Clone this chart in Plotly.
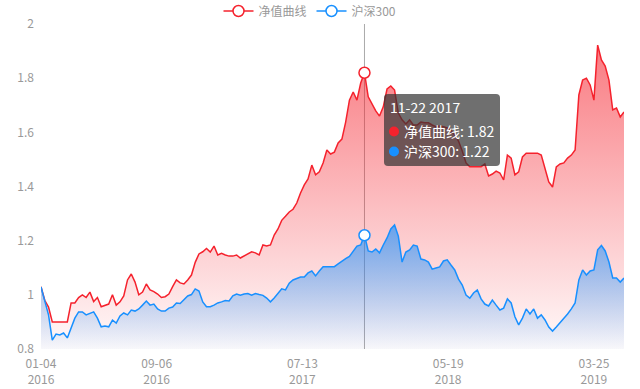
import pandas as pd
import plotly.graph_objects as go

# ---------------- data ----------------
START_DATE = "2016-01-04"
STEP = "8D"

nav = [
    1.03, 0.98, 0.955, 0.90, 0.90, 0.90, 0.90, 0.90, 0.97, 0.97,
    0.99, 1.00, 0.99, 1.01, 0.975, 0.99, 0.956, 0.96, 0.966, 1.00,
    0.962, 0.974, 0.996, 1.055, 1.077, 1.047, 1.00, 1.01, 1.04, 1.018,
    1.012, 1.003, 0.99, 0.993, 1.003, 1.03, 1.055, 1.044, 1.04, 1.055,
    1.073, 1.12, 1.151, 1.159, 1.171, 1.158, 1.18, 1.147, 1.153, 1.147,
    1.143, 1.143, 1.147, 1.136, 1.143, 1.151, 1.159, 1.155, 1.147, 1.184,
    1.18, 1.184, 1.221, 1.243, 1.275, 1.29, 1.306, 1.316, 1.339, 1.376,
    1.406, 1.428, 1.479, 1.443, 1.454, 1.487, 1.535, 1.52, 1.527, 1.561,
    1.575, 1.638, 1.719, 1.749, 1.719, 1.782, 1.82, 1.731, 1.705, 1.679,
    1.66, 1.694, 1.76, 1.771, 1.756, 1.671, 1.646, 1.631, 1.646, 1.627,
    1.627, 1.638, 1.635, 1.635, 1.627, 1.621, 1.623, 1.621, 1.616, 1.609,
    1.59, 1.568, 1.531, 1.487, 1.473, 1.473, 1.473, 1.473, 1.483, 1.439,
    1.446, 1.457, 1.45, 1.424, 1.516, 1.505, 1.443, 1.454, 1.509, 1.523,
    1.523, 1.523, 1.523, 1.516, 1.461, 1.417, 1.398, 1.472, 1.483, 1.487,
    1.505, 1.516, 1.535, 1.738, 1.793, 1.80, 1.775, 1.719, 1.922, 1.867,
    1.845, 1.793, 1.683, 1.69, 1.657, 1.675,
]

hs300 = [
    1.029, 0.974, 0.926, 0.833, 0.855, 0.852, 0.859, 0.841, 0.878, 0.914,
    0.937, 0.937, 0.926, 0.933, 0.937, 0.914, 0.882, 0.885, 0.882, 0.907,
    0.896, 0.922, 0.933, 0.926, 0.944, 0.94, 0.948, 0.962, 0.977, 0.962,
    0.966, 0.948, 0.94, 0.94, 0.951, 0.955, 0.97, 0.968, 0.981, 0.996,
    1.001, 1.022, 1.014, 0.974, 0.956, 0.956, 0.962, 0.97, 0.974, 0.979,
    0.977, 0.996, 1.003, 0.999, 1.003, 1.005, 0.999, 1.005, 1.001, 0.998,
    0.988, 0.974, 0.988, 1.007, 1.022, 1.018, 1.043, 1.055, 1.062, 1.066,
    1.066, 1.081, 1.088, 1.07, 1.088, 1.104, 1.104, 1.104, 1.104, 1.114,
    1.125, 1.134, 1.142, 1.16, 1.18, 1.184, 1.22, 1.162, 1.158, 1.169,
    1.155, 1.184, 1.21, 1.243, 1.258, 1.217, 1.121, 1.158, 1.166, 1.184,
    1.18, 1.132, 1.129, 1.121, 1.095, 1.099, 1.103, 1.125, 1.129, 1.11,
    1.092, 1.058, 1.036, 0.999, 0.988, 1.007, 1.018, 0.985, 0.966, 0.959,
    0.981, 0.962, 0.944, 0.951, 0.985, 0.97, 0.919, 0.889, 0.914, 0.948,
    0.929, 0.948, 0.914, 0.926, 0.907, 0.881, 0.866, 0.881, 0.896, 0.914,
    0.929, 0.948, 0.97, 1.055, 1.092, 1.073, 1.088, 1.092, 1.166, 1.182,
    1.162, 1.121, 1.062, 1.062, 1.047, 1.062,
]

series_names = ["净值曲线", "沪深300"]
x_tick_dates = ["2016-01-04", "2016-09-06", "2017-07-13", "2018-05-19", "2019-03-25"]
x_tick_labels = ["01-04<br>2016", "09-06<br>2016", "07-13<br>2017", "05-19<br>2018", "03-25<br>2019"]
y_tick_vals = [0.8, 1.0, 1.2, 1.4, 1.6, 1.8, 2.0]
y_tick_labels = ["0.8", "1", "1.2", "1.4", "1.6", "1.8", "2"]

hover_date = "2017-11-22"
hover_label = "11-22 2017"

dates = pd.date_range(START_DATE, periods=len(nav), freq=STEP)
hover_idx = list(dates.strftime("%Y-%m-%d")).index(hover_date)

# ---------------- style ----------------
RED = "#f5222d"
BLUE = "#1890ff"
GRAY = "#999999"
FONT = "Noto Sans CJK SC"

W, H = 640, 389
ML, MR, MT, MB = 41, 16, 24, 40
PW, PH = W - ML - MR, H - MT - MB


def px_x(px):
    return (px - ML) / PW


def px_y(py):
    return (H - MB - py) / PH


fig = go.Figure()

fig.add_trace(go.Scatter(
    x=dates, y=nav, mode="lines", name=series_names[0],
    line=dict(color=RED, width=1.5), fill="tozeroy",
    fillgradient=dict(type="vertical", start=0.8, stop=max(nav),
                      colorscale=[[0, "rgba(245,34,45,0.02)"], [1, "rgba(245,34,45,0.6)"]]),
    showlegend=False, hoverinfo="skip",
))
fig.add_trace(go.Scatter(
    x=dates, y=hs300, mode="lines", name=series_names[1],
    line=dict(color=BLUE, width=1.5), fill="tozeroy",
    fillgradient=dict(type="vertical", start=0.8, stop=max(hs300),
                      colorscale=[[0, "rgba(24,144,255,0.03)"], [1, "rgba(24,144,255,0.65)"]]),
    showlegend=False, hoverinfo="skip",
))

# legend entries (line with hollow circle)
for name, col in zip(series_names, [RED, BLUE]):
    fig.add_trace(go.Scatter(
        x=[None], y=[None], mode="lines+markers", name=name,
        line=dict(color=col, width=1.5),
        marker=dict(symbol="circle", size=11, color="white", line=dict(color=col, width=1.5)),
    ))

# hover markers
fig.add_trace(go.Scatter(
    x=[dates[hover_idx], dates[hover_idx]], y=[nav[hover_idx], hs300[hover_idx]],
    mode="markers", showlegend=False, hoverinfo="skip",
    marker=dict(symbol="circle", size=11, color="white",
                line=dict(color=[RED, BLUE], width=1.5)),
))

shapes = [
    dict(type="line", xref="x", yref="paper", x0=dates[hover_idx], x1=dates[hover_idx],
         y0=0, y1=1, line=dict(color="#aaaaaa", width=1), layer="below"),
]

# tooltip box (rounded)
bx0, bx1, by0, by1, r = 384, 500, 94, 166, 4
path = (
    f"M {px_x(bx0 + r)} {px_y(by0)} L {px_x(bx1 - r)} {px_y(by0)} "
    f"Q {px_x(bx1)} {px_y(by0)} {px_x(bx1)} {px_y(by0 + r)} "
    f"L {px_x(bx1)} {px_y(by1 - r)} Q {px_x(bx1)} {px_y(by1)} {px_x(bx1 - r)} {px_y(by1)} "
    f"L {px_x(bx0 + r)} {px_y(by1)} Q {px_x(bx0)} {px_y(by1)} {px_x(bx0)} {px_y(by1 - r)} "
    f"L {px_x(bx0)} {px_y(by0 + r)} Q {px_x(bx0)} {px_y(by0)} {px_x(bx0 + r)} {px_y(by0)} Z"
)
shapes.append(dict(type="path", xref="paper", yref="paper", path=path,
                   fillcolor="rgba(50,50,50,0.7)", line=dict(width=0), layer="above"))
for cy, col in [(131.5, RED), (151.5, BLUE)]:
    shapes.append(dict(type="circle", xref="paper", yref="paper",
                       x0=px_x(389), x1=px_x(399), y0=px_y(cy + 5), y1=px_y(cy - 5),
                       fillcolor=col, line=dict(width=0), layer="above"))

annotations = [
    dict(xref="paper", yref="paper", x=px_x(388), y=px_y(107), xanchor="left", yanchor="middle",
         text=hover_label, showarrow=False, font=dict(color="white", size=14, family=FONT)),
    dict(xref="paper", yref="paper", x=px_x(402), y=px_y(131), xanchor="left", yanchor="middle",
         text=f"{series_names[0]}: {nav[hover_idx]:.2f}", showarrow=False,
         font=dict(color="white", size=14, family=FONT)),
    dict(xref="paper", yref="paper", x=px_x(402), y=px_y(151), xanchor="left", yanchor="middle",
         text=f"{series_names[1]}: {hs300[hover_idx]:.2f}", showarrow=False,
         font=dict(color="white", size=14, family=FONT)),
]

fig.update_layout(
    width=W, height=H,
    margin=dict(l=ML, r=MR, t=MT, b=MB, pad=0, autoexpand=False),
    paper_bgcolor="white", plot_bgcolor="white",
    font=dict(family=FONT, size=12, color=GRAY),
    hovermode=False,
    showlegend=True,
    legend=dict(orientation="h", x=px_x(310), xanchor="center", y=px_y(11), yanchor="middle",
                font=dict(size=12, color=GRAY, family=FONT), bgcolor="rgba(0,0,0,0)",
                itemwidth=30, tracegroupgap=0),
    xaxis=dict(type="date", range=[dates[0], dates[-1]], tickvals=x_tick_dates, ticktext=x_tick_labels,
               showgrid=False, zeroline=False, showline=False, ticks="", automargin=False,
               ticklabelstandoff=6,
               tickfont=dict(size=12, color=GRAY, family=FONT)),
    yaxis=dict(range=[0.8, 2.0], tickvals=y_tick_vals, ticktext=y_tick_labels,
               showgrid=False, zeroline=False, showline=False, ticks="", automargin=False,
               ticklabelstandoff=6,
               tickfont=dict(size=12, color=GRAY, family=FONT)),
    shapes=shapes,
    annotations=annotations,
)

fig.write_html(
    "out.html",
    config={"displayModeBar": False},
    post_script="document.body.style.margin='0';document.body.style.overflow='hidden';",
)
